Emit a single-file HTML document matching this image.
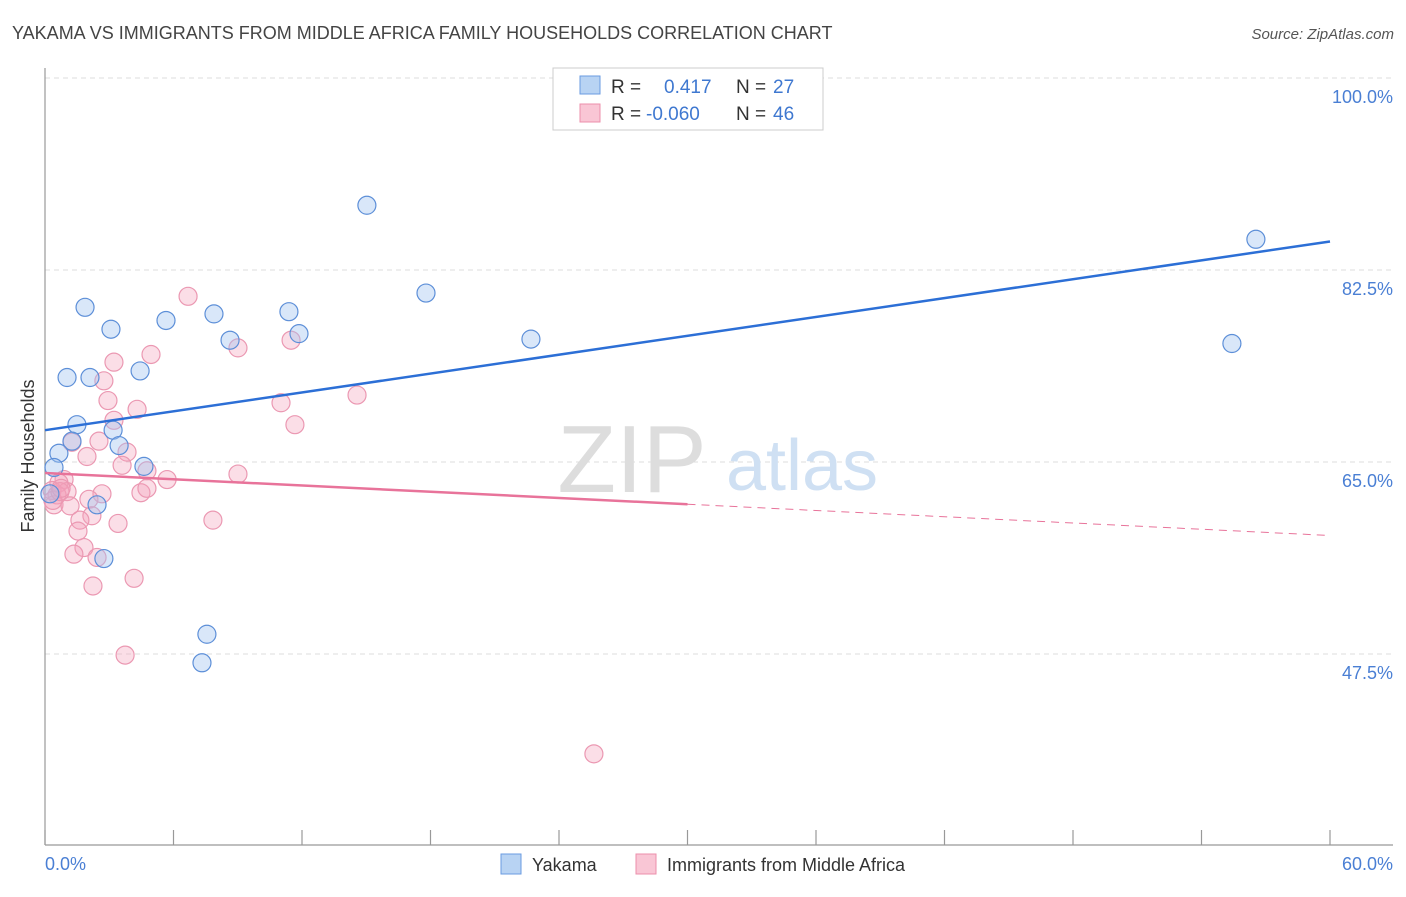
<!DOCTYPE html>
<html><head><meta charset="utf-8"><style>
body{margin:0;background:#fff;font-family:"Liberation Sans",sans-serif;}
svg text{font-family:"Liberation Sans",sans-serif;}
</style></head><body>
<svg id="chart" width="1406" height="892" viewBox="0 0 1406 892" xmlns="http://www.w3.org/2000/svg">
<text x="12" y="39" font-size="18" fill="#444">YAKAMA VS IMMIGRANTS FROM MIDDLE AFRICA FAMILY HOUSEHOLDS CORRELATION CHART</text>
<text x="1394" y="39" font-size="15" fill="#555" text-anchor="end" font-style="italic">Source: ZipAtlas.com</text>
<g id="grid"></g>
<g>
<text x="632" y="492" font-size="96" font-family="Liberation Serif" fill="#ddd" text-anchor="middle">ZIP</text>
<text x="802" y="490" font-size="72" fill="#cfe0f3" text-anchor="middle">atlas</text>
</g>
<line x1="45" y1="68" x2="45" y2="845" stroke="#999" stroke-width="1.2"/>
<line x1="45" y1="845" x2="1393" y2="845" stroke="#999" stroke-width="1.2"/>
<g id="xticks"></g>
<g id="ylabels"></g>
<text x="45" y="870" font-size="18" fill="#4a7fd4">0.0%</text>
<text x="1393" y="870" font-size="18" fill="#4a7fd4" text-anchor="end">60.0%</text>
<text transform="translate(34,456) rotate(-90)" font-size="18" fill="#333" text-anchor="middle">Family Households</text>
<g id="points"></g>
<g id="lines"></g>
<g>
<rect x="553" y="68" width="270" height="62" fill="#fff" stroke="#ccc"/>
<rect x="580" y="76" width="20" height="18" fill="#b8d3f3" stroke="#6a9be0"/>
<rect x="580" y="104" width="20" height="18" fill="#f9c6d5" stroke="#ec8fab"/>
<text x="611" y="93" font-size="19" fill="#333">R =</text>
<text x="664" y="93" font-size="19" fill="#3f78d0">0.417</text>
<text x="736" y="93" font-size="19" fill="#333">N =</text>
<text x="773" y="93" font-size="19" fill="#3f78d0">27</text>
<text x="611" y="120" font-size="19" fill="#333">R =</text>
<text x="646" y="120" font-size="19" fill="#3f78d0">-0.060</text>
<text x="736" y="120" font-size="19" fill="#333">N =</text>
<text x="773" y="120" font-size="19" fill="#3f78d0">46</text>
</g>
<g>
<rect x="501" y="854" width="20" height="20" fill="#b8d3f3" stroke="#6a9be0"/>
<text x="532" y="871" font-size="18" fill="#333">Yakama</text>
<rect x="636" y="854" width="20" height="20" fill="#f9c6d5" stroke="#ec8fab"/>
<text x="667" y="871" font-size="18" fill="#333">Immigrants from Middle Africa</text>
</g>
</svg>
<script>
const yTicks=[100,82.5,65,47.5];
const yTickLabels=["100.0%","82.5%","65.0%","47.5%"];
const xTicks=[0,6,12,18,24,30,36,42,48,54,60];
const yakamaX=[1.87,3.08,5.65,7.89,8.64,11.39,11.86,15.03,17.79,22.69,56.54,55.42,1.03,2.10,4.44,1.49,1.26,0.65,3.18,3.46,0.42,4.62,2.43,0.23,2.75,7.56,7.33];
const yakamaY=[79.1,77.1,77.9,78.5,76.1,78.7,76.7,88.4,80.4,76.2,85.3,75.8,72.7,72.7,73.3,68.4,66.9,65.8,67.9,66.5,64.5,64.6,61.1,62.1,56.2,49.3,46.7];
const immX=[6.68,14.57,11.02,11.67,11.49,9.01,4.95,3.22,2.75,2.94,4.30,3.22,2.52,1.26,3.83,1.96,3.60,4.76,5.70,9.01,0.89,0.65,0.33,1.03,0.56,2.66,2.05,4.48,4.76,0.42,1.17,2.19,1.63,3.41,7.84,1.54,1.82,1.35,2.43,4.16,2.24,3.74,25.63,0.37,0.70,0.75];
const immY=[80.1,71.1,70.4,68.4,76.1,75.4,74.8,74.1,72.4,70.6,69.8,68.8,66.9,66.8,65.9,65.5,64.7,64.2,63.4,63.9,63.4,63.1,62.4,62.3,62.0,62.1,61.6,62.2,62.6,61.1,61.0,60.1,59.7,59.4,59.7,58.7,57.2,56.6,56.3,54.4,53.7,47.4,38.4,61.5,62.3,62.6];
const yakamaTrend=[67.9,85.1];
const immTrend=[64.0,58.3];
const immSolidEnd=30;
const NS="http://www.w3.org/2000/svg";
function sx(v){return 45+v/60*1285;}
function sy(v){return 78+(100-v)/17.5*192;}
function mk(tag,attrs,parent){const e=document.createElementNS(NS,tag);for(const k in attrs)e.setAttribute(k,attrs[k]);parent.appendChild(e);return e;}
const grid=document.getElementById('grid'),yl=document.getElementById('ylabels'),xt=document.getElementById('xticks');
yTicks.forEach((t,i)=>{
 const l=mk('line',{x1:45,x2:1393,y1:sy(t),y2:sy(t),stroke:'#ddd','stroke-dasharray':'5,4'},grid);
 
 
 const tx=mk('text',{x:1393,y:sy(t)+25,'font-size':18,fill:'#4a7fd4','text-anchor':'end'},yl);
 tx.textContent=yTickLabels[i];
 
 
});
xTicks.forEach(t=>{
 const l=mk('line',{x1:sx(t),x2:sx(t),y1:830,y2:845,stroke:'#999','stroke-width':1.2},xt);
 
 
});
const pts=document.getElementById('points');
immX.forEach((x,i)=>{
 const c=mk('circle',{cx:sx(x),cy:sy(immY[i]),r:9,fill:'rgba(244,160,186,0.35)',stroke:'#eb98b2','stroke-width':1.2},pts);
 
 
});
yakamaX.forEach((x,i)=>{
 const c=mk('circle',{cx:sx(x),cy:sy(yakamaY[i]),r:9,fill:'rgba(160,196,240,0.4)',stroke:'#5d8fd8','stroke-width':1.2},pts);
 
 
});
const ln=document.getElementById('lines');
const b=mk('line',{x1:sx(0),y1:sy(yakamaTrend[0]),x2:sx(60),y2:sy(yakamaTrend[1]),stroke:'#2c6fd6','stroke-width':2.5},ln);


const mid=immTrend[0]+(immTrend[1]-immTrend[0])*immSolidEnd/60;
const p1=mk('line',{x1:sx(0),y1:sy(immTrend[0]),x2:sx(immSolidEnd),y2:sy(mid),stroke:'#e8739a','stroke-width':2.5},ln);


const p2=mk('line',{x1:sx(immSolidEnd),y1:sy(mid),x2:sx(60),y2:sy(immTrend[1]),stroke:'#e8739a','stroke-width':1,'stroke-dasharray':'8,6'},ln);


</script>
</body></html>
